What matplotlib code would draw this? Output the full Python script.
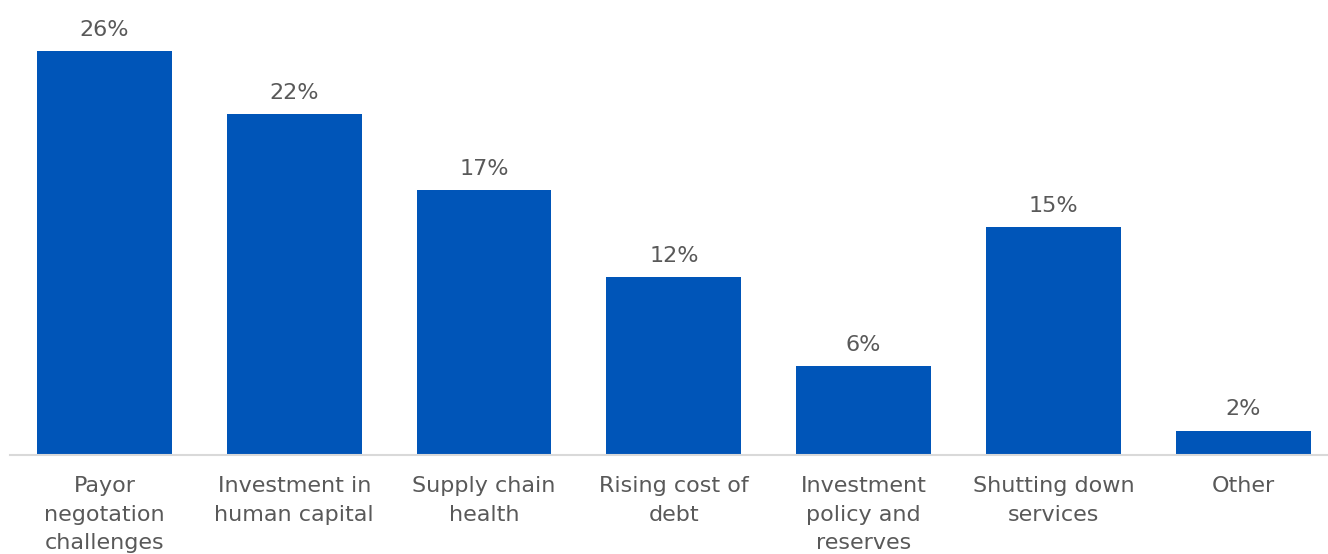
import numpy as np
import matplotlib.pyplot as plt

plt.rcParams['font.family'] = ['DejaVu Sans']

# categories and values
categories = ["Payor\nnegotation\nchallenges", "Investment in\nhuman capital",
              "Supply chain\nhealth", "Rising cost of\ndebt",
              "Investment\npolicy and\nreserves", "Shutting down\nservices", "Other"]
values = [26.4, 22.3, 17.3, 11.6, 5.8, 14.9, 1.6]
value_labels = ["26%", "22%", "17%", "12%", "6%", "15%", "2%"]

bar_color = "#0055B8"
text_color = "#595959"

fig = plt.figure(figsize=(13.28, 5.54), dpi=100)
ax = fig.add_axes([0.0072, 0.1787, 1.0004, 0.7735])

x = np.arange(len(categories))
bars = ax.bar(x, values, width=0.71, color=bar_color, zorder=2)
ax.bar_label(bars, labels=value_labels, padding=8, fontsize=16, color=text_color)

ax.set_xlim(-0.5, len(categories) - 0.5)
ax.set_ylim(0, 28)
ax.set_xticks(x)
ax.set_xticklabels(categories, fontsize=16, color=text_color, linespacing=1.55)
ax.tick_params(axis="x", length=0, pad=15)
ax.set_yticks([])

for s in ["top", "right", "left"]:
    ax.spines[s].set_visible(False)
ax.spines["bottom"].set_color("#D9D9D9")
ax.spines["bottom"].set_linewidth(1.5)

fig.savefig("out.png", dpi=100)
